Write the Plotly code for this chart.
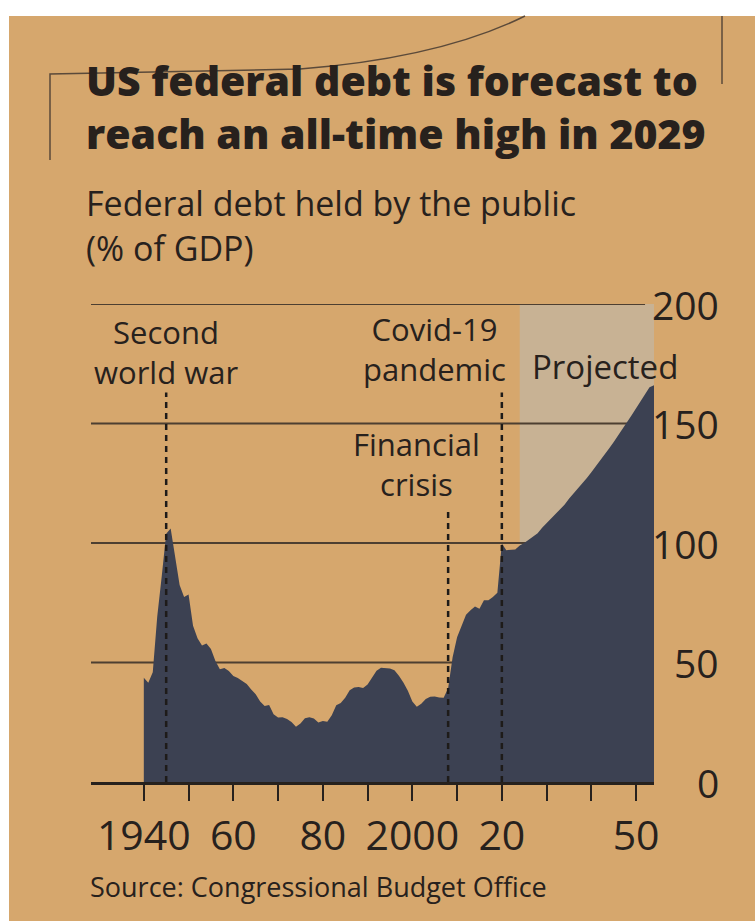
import plotly.graph_objects as go

# Federal debt held by the public, % of GDP (CBO)
hist_years = list(range(1940, 2024))
hist_debt = [
    43.6, 41.5, 45.9, 69.2, 86.0, 103.9, 106.1, 93.9, 82.4, 77.4,
    78.5, 65.4, 60.1, 57.1, 57.9, 55.7, 50.6, 47.2, 47.7, 46.4,
    44.3, 43.5, 42.3, 41.0, 38.7, 36.7, 33.7, 31.8, 32.2, 28.3,
    27.0, 27.1, 26.4, 25.1, 23.1, 24.5, 26.7, 27.1, 26.6, 24.9,
    25.5, 25.2, 27.9, 32.1, 33.1, 35.3, 38.4, 39.5, 39.8, 39.3,
    40.8, 44.0, 46.6, 47.8, 47.7, 47.5, 46.8, 44.5, 41.6, 38.2,
    33.7, 31.5, 32.7, 34.7, 35.7, 35.8, 35.4, 35.2, 39.2, 52.2,
    60.6, 65.5, 70.0, 71.9, 73.4, 72.5, 76.0, 76.0, 77.4, 79.2,
    99.8, 97.0, 97.0, 97.3,
]
proj_years = list(range(2024, 2055))
proj_debt = [
    99.0, 100.0, 101.4, 102.6, 104.1, 106.4, 108.3, 110.2, 112.2, 114.3,
    116.0, 118.5, 120.6, 122.7, 124.9, 127.2, 129.6, 132.0, 134.5, 137.0,
    139.6, 142.3, 145.0, 147.8, 150.6, 153.5, 156.4, 159.4, 162.4, 165.2,
    166.0,
]

x_range = [1928.2, 2054]
y_ticks = [0, 50, 100, 150, 200]
x_tick_years = list(range(1940, 2060, 10))
x_tick_text = ["1940", "", "60", "", "80", "", "2000", "", "20", "", "", "50"]

events = [
    {"year": 1945, "top": 163, "label": "Second<br>world war", "dx": 0, "ly": 180},
    {"year": 2008, "top": 113, "label": "Financial<br>crisis", "dx": -7, "ly": 133},
    {"year": 2020, "top": 163, "label": "Covid-19<br>pandemic", "dx": -15, "ly": 181},
]
proj_start = 2024

PAPER = "#d6a76d"
SHADE = "#c8b294"
AREA = "#3c4152"
INK = "#27211d"
GRID = "#4d3f31"
FONT = "Open Sans"

W, H = 755, 921
L, R, T, B = 91, 101, 304, 139
PW, PH = W - L - R, H - T - B


def fx(px):
    return (px - L) / PW


def fy(py):
    return (H - B - py) / PH


fig = go.Figure()

fig.add_trace(go.Scatter(
    x=hist_years + proj_years,
    y=hist_debt + proj_debt,
    mode="lines",
    line=dict(width=0, color=AREA),
    fill="tozeroy",
    fillcolor=AREA,
    hoverinfo="skip",
    showlegend=False,
))

shapes = [
    # newsprint page
    dict(type="rect", xref="paper", yref="paper", x0=fx(9), x1=fx(W + 5),
         y0=fy(H + 5), y1=fy(16), fillcolor=PAPER, line=dict(width=0), layer="below"),
    # box rule around the graphic
    dict(type="path", xref="paper", yref="paper",
         path=f"M {fx(50)} {fy(160)} L {fx(50)} {fy(74)} L {fx(300)} {fy(69)} "
              f"Q {fx(440)} {fy(58)} {fx(525)} {fy(16)}",
         line=dict(color="#5b4a3a", width=1.5), layer="below"),
    dict(type="line", xref="paper", yref="paper", x0=fx(722), x1=fx(722),
         y0=fy(16), y1=fy(84), line=dict(color="#5b4a3a", width=1.5), layer="below"),
    # projected period
    dict(type="rect", xref="x", yref="y", x0=proj_start, x1=x_range[1], y0=0, y1=200,
         fillcolor=SHADE, line=dict(width=0), layer="below"),
]
for v in y_ticks[1:]:
    shapes.append(dict(type="line", xref="x", yref="y", x0=x_range[0], x1=2052,
                       y0=v, y1=v, line=dict(color=GRID, width=2), layer="below"))
for ev in events:
    shapes.append(dict(type="line", xref="x", yref="y", x0=ev["year"], x1=ev["year"],
                       y0=0, y1=ev["top"], line=dict(color="#1e1b19", width=2.5, dash="6px,5px"),
                       layer="above"))

texts = [
    dict(text="US federal debt is forecast to", x=84, y=80, size=41, weight=800),
    dict(text="reach an all-time high in 2029", x=84, y=133, size=41, weight=800),
    dict(text="Federal debt held by the public", x=84, y=203, size=34, weight=500),
    dict(text="(% of GDP)", x=84, y=248, size=34, weight=500),
    dict(text="Source: Congressional Budget Office", x=88, y=886, size=27, weight=500),
]
annotations = [
    dict(text=t["text"], x=fx(t["x"]), y=fy(t["y"]), xref="paper", yref="paper",
         xanchor="left", yanchor="middle", showarrow=False,
         font=dict(family=FONT, size=t["size"], weight=t["weight"], color=INK))
    for t in texts
]
for ev in events:
    annotations.append(dict(
        text=ev["label"], x=ev["year"] + ev["dx"], y=ev["ly"], xref="x", yref="y",
        xanchor="center", yanchor="middle", showarrow=False, align="center",
        font=dict(family=FONT, size=31, weight=500, color=INK)))
annotations.append(dict(
    text="Projected", x=proj_start + 2.3, y=174, xref="x", yref="y",
    xanchor="left", yanchor="middle", showarrow=False,
    font=dict(family=FONT, size=33, weight=500, color=INK)))
for v in y_ticks:
    annotations.append(dict(
        text=str(v), x=fx(721), y=v, xref="paper", yref="y",
        xanchor="right", yanchor="middle", showarrow=False,
        font=dict(family=FONT, size=39, weight=500, color=INK)))

fig.update_layout(
    width=W, height=H, autosize=False,
    margin=dict(l=L, r=R, t=T, b=B, pad=0),
    paper_bgcolor="white",
    plot_bgcolor="rgba(0,0,0,0)",
    shapes=shapes,
    annotations=annotations,
    showlegend=False,
    xaxis=dict(
        range=x_range, tickmode="array", tickvals=x_tick_years, ticktext=x_tick_text,
        ticks="outside", ticklen=16, tickwidth=2, tickcolor=INK,
        showline=True, linewidth=3, linecolor=INK,
        showgrid=False, zeroline=False, fixedrange=True,
        tickfont=dict(family=FONT, size=41, weight=500, color=INK),
    ),
    yaxis=dict(
        range=[0, 200], showticklabels=False, showgrid=False, zeroline=False,
        showline=False, ticks="", fixedrange=True,
    ),
)

fig.write_html("out.html")
